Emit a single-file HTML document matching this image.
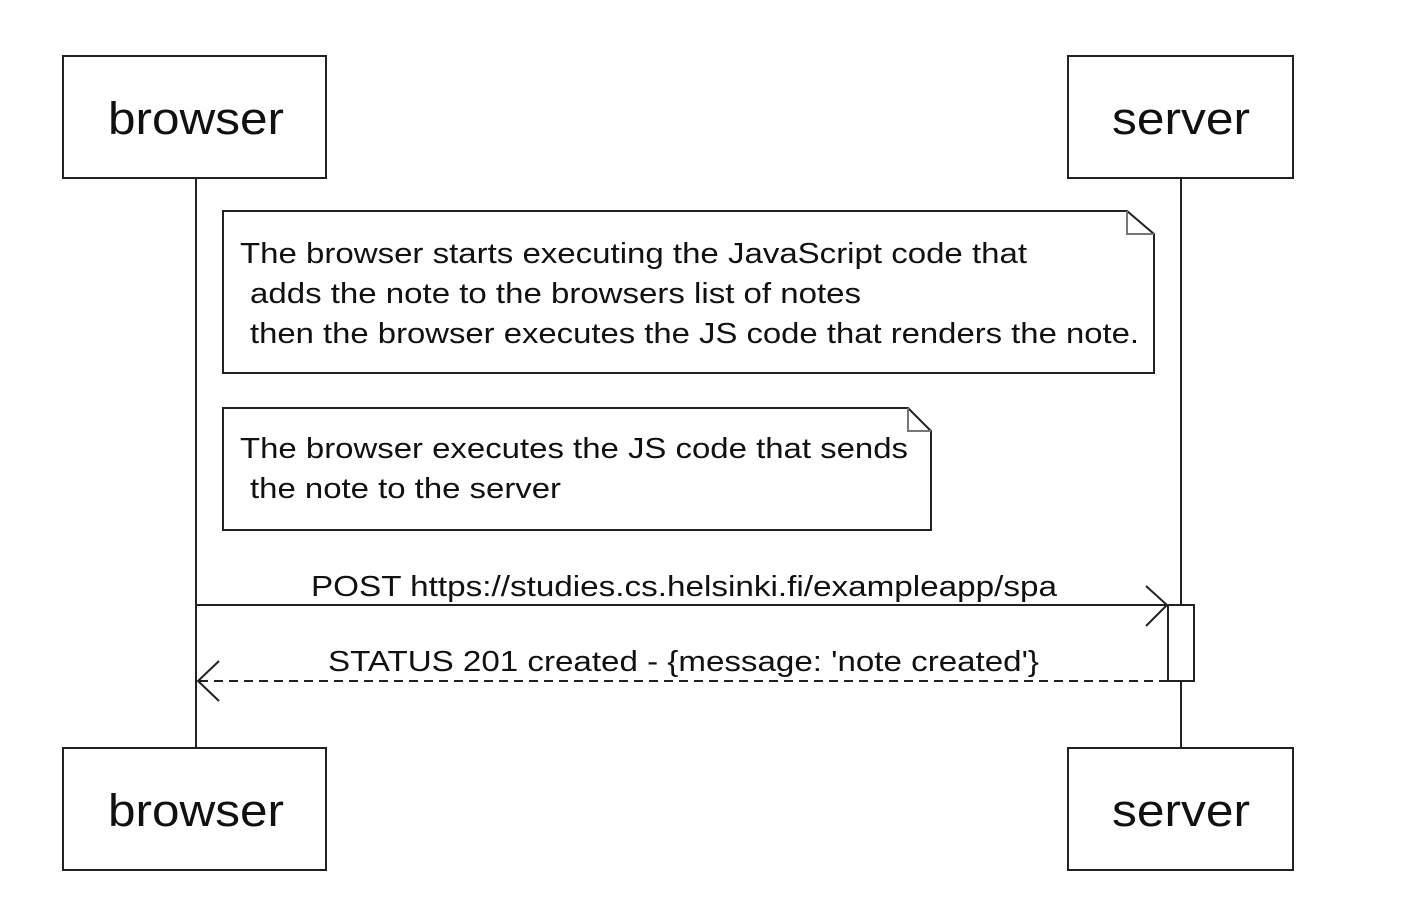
<!DOCTYPE html>
<html><head><style>body{margin:0;background:#fff}svg{display:block}</style></head><body>
<svg width="1416" height="899" xmlns="http://www.w3.org/2000/svg" font-family="Liberation Sans, Arial, sans-serif" fill="none" stroke="#222" stroke-width="2">
<rect x="0" y="0" width="1416" height="899" fill="#fff" stroke="none"/>
<line x1="196" y1="178" x2="196" y2="748"/>
<line x1="1181" y1="178" x2="1181" y2="748"/>
<rect x="63" y="56" width="263" height="122" fill="#fff"/>
<rect x="1068" y="56" width="225" height="122" fill="#fff"/>
<rect x="63" y="748" width="263" height="122" fill="#fff"/>
<rect x="1068" y="748" width="225" height="122" fill="#fff"/>
<g fill="#111" stroke="none" font-size="45" text-anchor="middle">
<text x="196" y="134" textLength="176" lengthAdjust="spacingAndGlyphs">browser</text>
<text x="1181" y="134" textLength="138" lengthAdjust="spacingAndGlyphs">server</text>
<text x="196" y="826" textLength="176" lengthAdjust="spacingAndGlyphs">browser</text>
<text x="1181" y="826" textLength="138" lengthAdjust="spacingAndGlyphs">server</text>
</g>
<path d="M223 211 H1127 L1154 234 V373 H223 Z" fill="#fff"/>
<path d="M1127 211 V234 H1154" stroke="#777"/>
<path d="M223 408 H908 L931 431 V530 H223 Z" fill="#fff"/>
<path d="M908 408 V431 H931" stroke="#777"/>
<g fill="#111" stroke="none" font-size="29">
<text x="240" y="263" textLength="787" lengthAdjust="spacingAndGlyphs">The browser starts executing the JavaScript code that</text>
<text x="250" y="303" textLength="611" lengthAdjust="spacingAndGlyphs">adds the note to the browsers list of notes</text>
<text x="250" y="343" textLength="889" lengthAdjust="spacingAndGlyphs">then the browser executes the JS code that renders the note.</text>
<text x="240" y="458" textLength="668" lengthAdjust="spacingAndGlyphs">The browser executes the JS code that sends</text>
<text x="250" y="498" textLength="311" lengthAdjust="spacingAndGlyphs">the note to the server</text>
<text x="311" y="596" textLength="746" lengthAdjust="spacingAndGlyphs">POST https://studies.cs.helsinki.fi/exampleapp/spa</text>
<text x="328" y="671" textLength="711" lengthAdjust="spacingAndGlyphs">STATUS 201 created - {message: 'note created'}</text>
</g>
<line x1="196" y1="605" x2="1167" y2="605"/>
<path d="M1146 586 L1167 605 L1146 626"/>
<rect x="1168" y="605" width="26" height="76" fill="#fff"/>
<line x1="1168" y1="681" x2="198" y2="681" stroke-dasharray="9,6"/>
<path d="M219 661 L198 681 L219 701"/>
</svg>
</body></html>
